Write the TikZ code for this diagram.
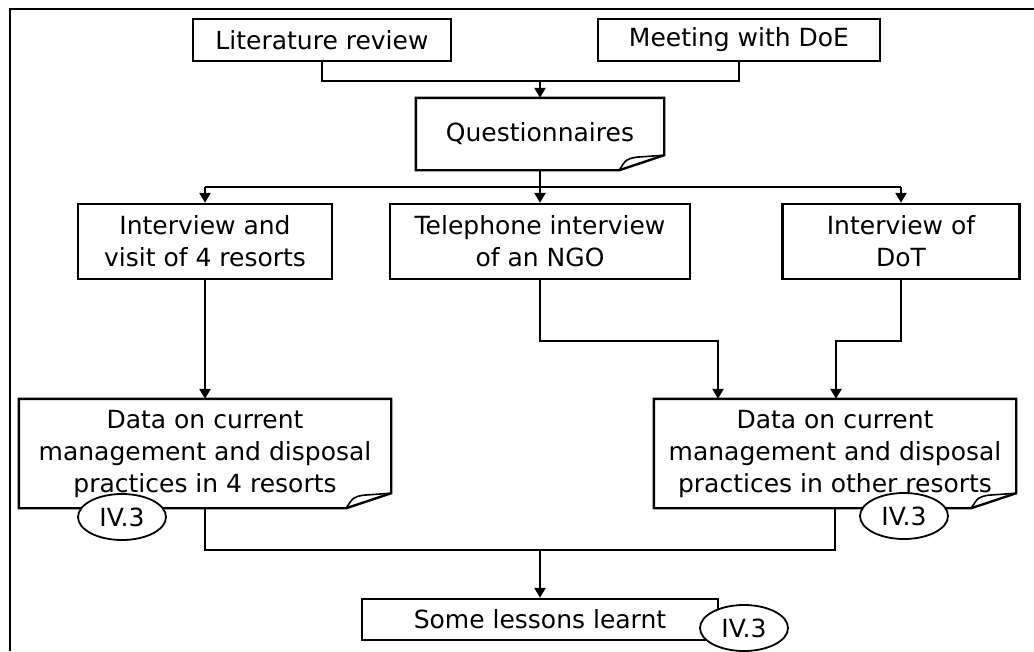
\documentclass[tikz,border=0pt]{standalone}
\usepackage{fontspec}
\setmainfont{DejaVu Sans}
\usetikzlibrary{arrows.meta, shapes.geometric}

\begin{document}
\begin{tikzpicture}[x=1pt, y=-1pt]
  \tikzset{
    box/.style={rectangle, draw=black, line width=2.4pt, align=center,
                inner sep=0pt, font=\fontsize{25}{32}\selectfont},
    note/.style={box, draw=none},
    tag/.style={ellipse, draw=black, line width=1.8pt, fill=white, inner sep=0pt,
                minimum width=88pt, minimum height=46pt,
                font=\fontsize{25}{30}\selectfont},
    wire/.style={line width=2.4pt},
    arr/.style={wire, -{Triangle[length=10pt, width=11pt]}}
  }
  \useasboundingbox (0,0) rectangle (1034,651);
  \draw[wire] (10,651) -- (10,9) -- (1034,9);

  % sources
  \node[box, minimum width=258pt, minimum height=42pt] (lit) at (322,40) {Literature review};
  \node[box, minimum width=282pt, minimum height=42pt] (doe) at (739,40) {Meeting with DoE};
  \node[note, minimum width=246pt, minimum height=70pt] (quest) at (540,134) {Questionnaires};

  % interviews
  \node[box, minimum width=254pt, minimum height=75pt] (visit) at (205,241.5) {Interview and\\visit of 4 resorts};
  \node[box, minimum width=300pt, minimum height=75pt] (phone) at (540,241.5) {Telephone interview\\of an NGO};
  \node[box, minimum width=237pt, minimum height=75pt] (dot)   at (901,241.5) {Interview of\\DoT};

  % results
  \node[note, minimum width=370pt, minimum height=107pt] (data1) at (205,453.5)
    {Data on current\\management and disposal\\practices in 4 resorts};
  \node[note, minimum width=360pt, minimum height=107pt] (data2) at (835,453.5)
    {Data on current\\management and disposal\\practices in other resorts};
  \node[box, minimum width=356pt, minimum height=41pt] (lessons) at (540,619.5) {Some lessons learnt};

  % folded corners
  \foreach \n in {quest,data1,data2} {
    \draw[wire, line join=miter] ([xshift=-45pt]\n.south east) -- (\n.south west)
      -- (\n.north west) -- (\n.north east) -- ([yshift=15pt]\n.south east) -- cycle;
    \draw[line width=1.6pt] ([xshift=-45pt]\n.south east)
      .. controls ([xshift=-38pt, yshift=11pt]\n.south east) .. ([xshift=-28pt, yshift=13pt]\n.south east)
      -- ([yshift=15pt]\n.south east);
  }

  % connectors
  \coordinate (j1) at (540,81);
  \coordinate (j2) at (540,187);
  \coordinate (j3) at (718,341);
  \coordinate (j4) at (836,341);
  \coordinate (j5) at (540,550);
  \draw[wire] (lit.south) |- (j1) -| (doe.south);
  \draw[arr] (j1) -- (quest.north);
  \draw[wire] (quest.south) -- (j2);
  \draw[wire] (visit.north |- j2) -- (dot.north |- j2);
  \foreach \n in {visit,phone,dot}
    \draw[arr] (\n.north |- j2) -- (\n.north);
  \draw[arr] (visit.south) -- (data1.north);
  \draw[arr] (phone.south) |- (j3) -- (j3 |- data2.north);
  \draw[arr] (dot.south) |- (j4) -- (j4 |- data2.north);
  \draw[wire] (data1.south) |- (j5) -| (data2.south);
  \draw[arr] (j5) -- (lessons.north);

  % section tags
  \node[tag] (tag1) at (122,517) {IV.3};
  \node[tag] (tag2) at (904,516) {IV.3};
  \node[tag] (tag3) at (744,628) {IV.3};
\end{tikzpicture}
\end{document}
